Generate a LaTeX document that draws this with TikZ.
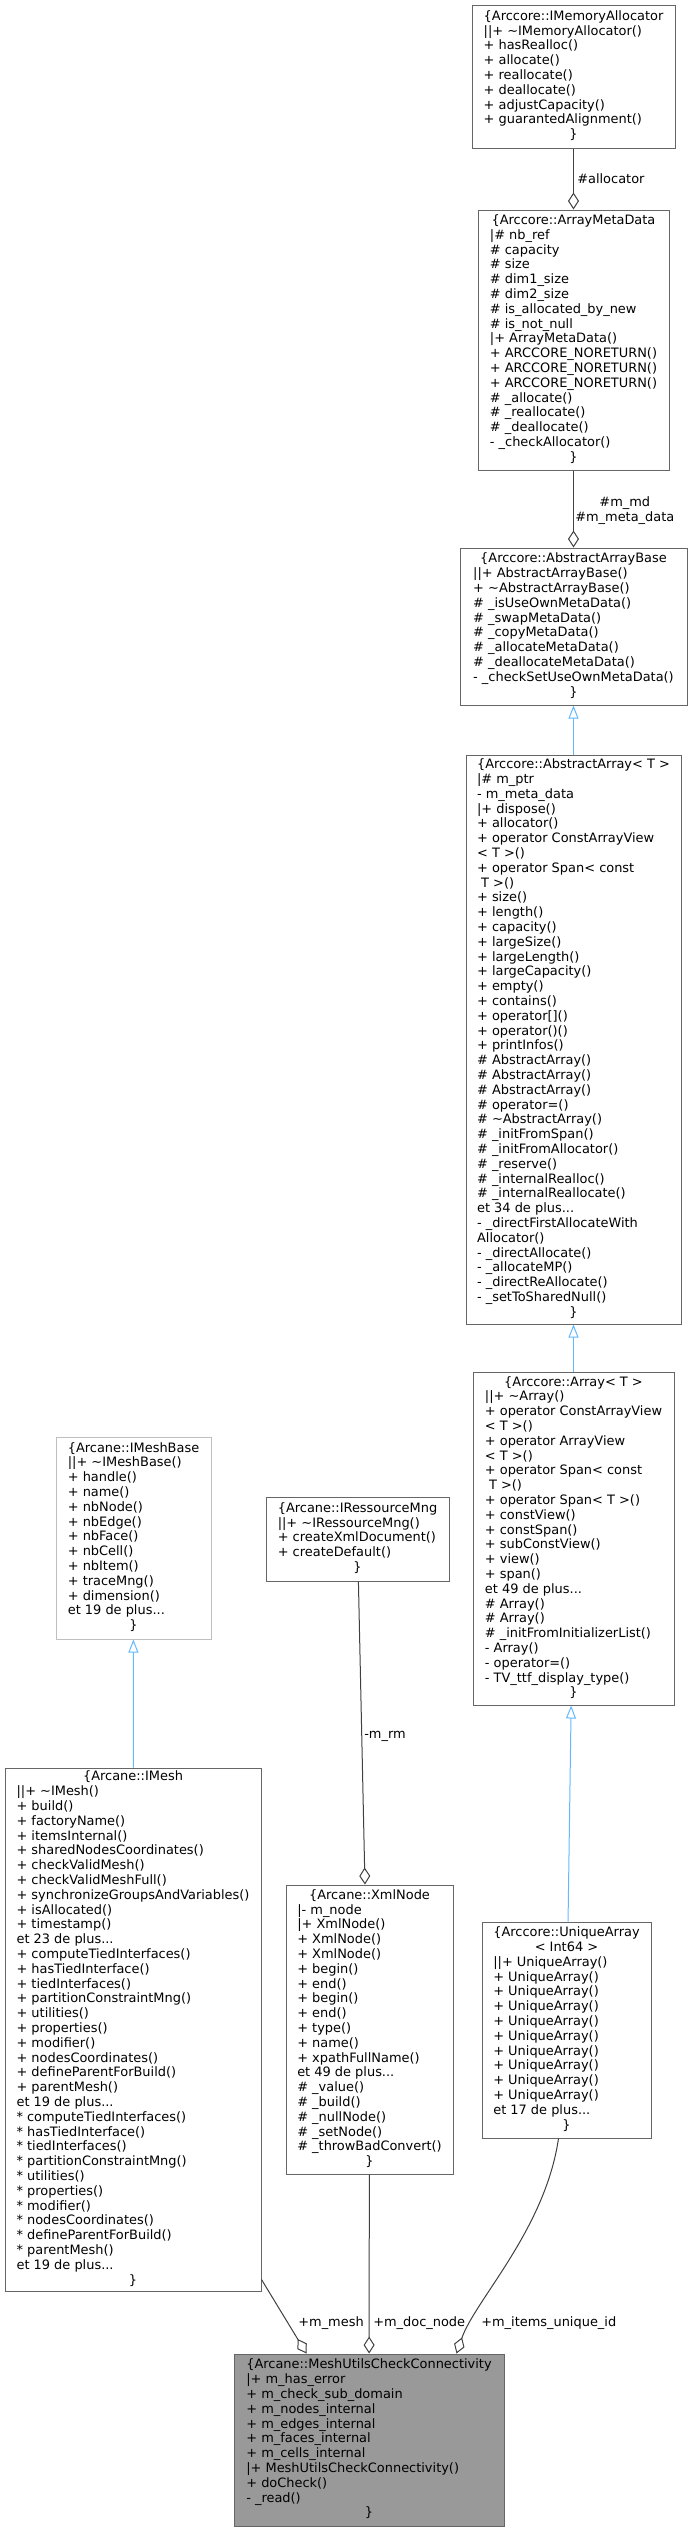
\documentclass[tikz,border=0pt]{standalone}
\usepackage{fontspec}
\setmainfont{DejaVu Sans}
\usetikzlibrary{calc}
\usetikzlibrary{arrows.meta}

\definecolor{edgegrey}{HTML}{404040}
\definecolor{boxgrey}{HTML}{666666}
\definecolor{palegrey}{HTML}{BFBFBF}
\definecolor{basegrey}{HTML}{999999}
\definecolor{isablue}{HTML}{63B8FF}
\newcommand{\ctline}[1]{\multicolumn{1}{@{}c@{}}{#1}}

\begin{document}
\begin{tikzpicture}[
        x=0.75pt, y=-0.75pt,
        record/.style={draw=boxgrey,fill=white,line width=0.75pt,inner sep=0pt,
            font=\fontsize{9.7}{11.1}\selectfont},
        lbl/.style={inner sep=0pt,font=\fontsize{9.7}{11.1}\selectfont},
        part/.style={draw=edgegrey,line width=0.75pt,
            -{Diamond[open,fill=white,length=12.75pt,width=8.25pt]}},
        isa/.style={draw=isablue,line width=0.75pt,
            -{Triangle[open,fill=white,length=9.75pt,width=7.5pt]}}
    ]
        \useasboundingbox (0,0) rectangle (691,2532);

        % right column
        \node[record,minimum width=203*0.75pt,minimum height=143*0.75pt] (alloc) at (573.5,76.5) {\begin{tabular}{@{}l@{}}
            \ctline{\{Arccore::IMemoryAllocator}\\
            ||+ \textasciitilde IMemoryAllocator()\\
            + hasRealloc()\\
            + allocate()\\
            + reallocate()\\
            + deallocate()\\
            + adjustCapacity()\\
            + guarantedAlignment()\\
            \ctline{\}}
        \end{tabular}};
        \node[record,minimum width=191*0.75pt,minimum height=260*0.75pt] (meta) at (573.5,340) {\begin{tabular}{@{}l@{}}
            \ctline{\{Arccore::ArrayMetaData}\\
            |\# nb\_ref\\
            \# capacity\\
            \# size\\
            \# dim1\_size\\
            \# dim2\_size\\
            \# is\_allocated\_by\_new\\
            \# is\_not\_null\\
            |+ ArrayMetaData()\\
            + ARCCORE\_NORETURN()\\
            + ARCCORE\_NORETURN()\\
            + ARCCORE\_NORETURN()\\
            \# \_allocate()\\
            \# \_reallocate()\\
            \# \_deallocate()\\
            - \_checkAllocator()\\
            \ctline{\}}
        \end{tabular}};
        \node[record,minimum width=227*0.75pt,minimum height=157*0.75pt] (base) at (573.5,626.5) {\begin{tabular}{@{}l@{}}
            \ctline{\{Arccore::AbstractArrayBase}\\
            ||+ AbstractArrayBase()\\
            + \textasciitilde AbstractArrayBase()\\
            \# \_isUseOwnMetaData()\\
            \# \_swapMetaData()\\
            \# \_copyMetaData()\\
            \# \_allocateMetaData()\\
            \# \_deallocateMetaData()\\
            - \_checkSetUseOwnMetaData()\\
            \ctline{\}}
        \end{tabular}};
        \node[record,minimum width=215*0.75pt,minimum height=569*0.75pt] (absarr) at (573.5,1039.5) {\begin{tabular}{@{}l@{}}
            \ctline{\{Arccore::AbstractArray< T >}\\
            |\# m\_ptr\\
            - m\_meta\_data\\
            |+ dispose()\\
            + allocator()\\
            + operator ConstArrayView\\
            < T >()\\
            + operator Span< const\\
            \ T >()\\
            + size()\\
            + length()\\
            + capacity()\\
            + largeSize()\\
            + largeLength()\\
            + largeCapacity()\\
            + empty()\\
            + contains()\\
            + operator[]()\\
            + operator()()\\
            + printInfos()\\
            \# AbstractArray()\\
            \# AbstractArray()\\
            \# AbstractArray()\\
            \# operator=()\\
            \# \textasciitilde AbstractArray()\\
            \# \_initFromSpan()\\
            \# \_initFromAllocator()\\
            \# \_reserve()\\
            \# \_internalRealloc()\\
            \# \_internalReallocate()\\
            et 34 de plus...\\
            - \_directFirstAllocateWith\\
            Allocator()\\
            - \_directAllocate()\\
            - \_allocateMP()\\
            - \_directReAllocate()\\
            - \_setToSharedNull()\\
            \ctline{\}}
        \end{tabular}};
        \node[record,minimum width=201*0.75pt,minimum height=333*0.75pt] (arr) at (573.5,1538.5) {\begin{tabular}{@{}l@{}}
            \ctline{\{Arccore::Array< T >}\\
            ||+ \textasciitilde Array()\\
            + operator ConstArrayView\\
            < T >()\\
            + operator ArrayView\\
            < T >()\\
            + operator Span< const\\
            \ T >()\\
            + operator Span< T >()\\
            + constView()\\
            + constSpan()\\
            + subConstView()\\
            + view()\\
            + span()\\
            et 49 de plus...\\
            \# Array()\\
            \# Array()\\
            \# \_initFromInitializerList()\\
            - Array()\\
            - operator=()\\
            - TV\_ttf\_display\_type()\\
            \ctline{\}}
        \end{tabular}};
        \node[record,minimum width=169*0.75pt,minimum height=216*0.75pt] (uniq) at (566.5,2030) {\begin{tabular}{@{}l@{}}
            \ctline{\{Arccore::UniqueArray}\\
            \ctline{< Int64 >}\\
            ||+ UniqueArray()\\
            + UniqueArray()\\
            + UniqueArray()\\
            + UniqueArray()\\
            + UniqueArray()\\
            + UniqueArray()\\
            + UniqueArray()\\
            + UniqueArray()\\
            + UniqueArray()\\
            + UniqueArray()\\
            et 17 de plus...\\
            \ctline{\}}
        \end{tabular}};

        % left and middle columns
        \node[record,draw=palegrey,minimum width=155*0.75pt,minimum height=202*0.75pt] (imeshbase) at (133.5,1538) {\begin{tabular}{@{}l@{}}
            \ctline{\{Arcane::IMeshBase}\\
            ||+ \textasciitilde IMeshBase()\\
            + handle()\\
            + name()\\
            + nbNode()\\
            + nbEdge()\\
            + nbFace()\\
            + nbCell()\\
            + nbItem()\\
            + traceMng()\\
            + dimension()\\
            et 19 de plus...\\
            \ctline{\}}
        \end{tabular}};
        \node[record,minimum width=256*0.75pt,minimum height=523*0.75pt] (imesh) at (133,2029.5) {\begin{tabular}{@{}l@{}}
            \ctline{\{Arcane::IMesh}\\
            ||+ \textasciitilde IMesh()\\
            + build()\\
            + factoryName()\\
            + itemsInternal()\\
            + sharedNodesCoordinates()\\
            + checkValidMesh()\\
            + checkValidMeshFull()\\
            + synchronizeGroupsAndVariables()\\
            + isAllocated()\\
            + timestamp()\\
            et 23 de plus...\\
            + computeTiedInterfaces()\\
            + hasTiedInterface()\\
            + tiedInterfaces()\\
            + partitionConstraintMng()\\
            + utilities()\\
            + properties()\\
            + modifier()\\
            + nodesCoordinates()\\
            + defineParentForBuild()\\
            + parentMesh()\\
            et 19 de plus...\\
            {*} computeTiedInterfaces()\\
            {*} hasTiedInterface()\\
            {*} tiedInterfaces()\\
            {*} partitionConstraintMng()\\
            {*} utilities()\\
            {*} properties()\\
            {*} modifier()\\
            {*} nodesCoordinates()\\
            {*} defineParentForBuild()\\
            {*} parentMesh()\\
            et 19 de plus...\\
            \ctline{\}}
        \end{tabular}};
        \node[record,minimum width=183*0.75pt,minimum height=84*0.75pt] (rmng) at (357.5,1539) {\begin{tabular}{@{}l@{}}
            \ctline{\{Arcane::IRessourceMng}\\
            ||+ \textasciitilde IRessourceMng()\\
            + createXmlDocument()\\
            + createDefault()\\
            \ctline{\}}
        \end{tabular}};
        \node[record,minimum width=167*0.75pt,minimum height=289*0.75pt] (xml) at (369.5,2029.5) {\begin{tabular}{@{}l@{}}
            \ctline{\{Arcane::XmlNode}\\
            |- m\_node\\
            |+ XmlNode()\\
            + XmlNode()\\
            + XmlNode()\\
            + begin()\\
            + end()\\
            + begin()\\
            + end()\\
            + type()\\
            + name()\\
            + xpathFullName()\\
            et 49 de plus...\\
            \# \_value()\\
            \# \_build()\\
            \# \_nullNode()\\
            \# \_setNode()\\
            \# \_throwBadConvert()\\
            \ctline{\}}
        \end{tabular}};
        \node[record,fill=basegrey,minimum width=270*0.75pt,minimum height=172*0.75pt] (check) at (369,2440) {\begin{tabular}{@{}l@{}}
            \ctline{\{Arcane::MeshUtilsCheckConnectivity}\\
            |+ m\_has\_error\\
            + m\_check\_sub\_domain\\
            + m\_nodes\_internal\\
            + m\_edges\_internal\\
            + m\_faces\_internal\\
            + m\_cells\_internal\\
            |+ MeshUtilsCheckConnectivity()\\
            + doCheck()\\
            - \_read()\\
            \ctline{\}}
        \end{tabular}};

        % connectors
        \draw[part] (alloc) -- (meta);
        \draw[part] (meta) -- (base);
        \draw[isa] (absarr) -- (base);
        \draw[isa] (arr) -- (absarr);
        \draw[isa] (uniq) -- (arr);
        \draw[isa] (imesh) -- (imeshbase);
        \draw[part] (rmng) -- ([xshift=-3.4pt]xml.north);
        \draw[part] ($(imesh.south east)+(0,-12)$) -- ($(check.north west)+(73,0)$);
        \draw[part] (xml) -- (check);
        \draw[part] ($(uniq.south)+(-8,0)$) .. controls (545,2230) and (475,2300) .. ($(check.north east)+(-48,0)$);

        % labels
        \node[lbl,anchor=west] (lalloc) at (577,179) {\#allocator};
        \node[lbl,anchor=west,align=center] (lmeta) at (575,511) {\#m\_md\\\#m\_meta\_data};
        \node[lbl,anchor=west] (lrm) at (364,1736) {-m\_rm};
        \node[lbl,anchor=east] (lmesh) at (364,2323) {+m\_mesh};
        \node[lbl,anchor=west] (ldoc) at (373,2323) {+m\_doc\_node};
        \node[lbl,anchor=west] (litems) at (481,2323) {+m\_items\_unique\_id};
    \end{tikzpicture}
\end{document}
